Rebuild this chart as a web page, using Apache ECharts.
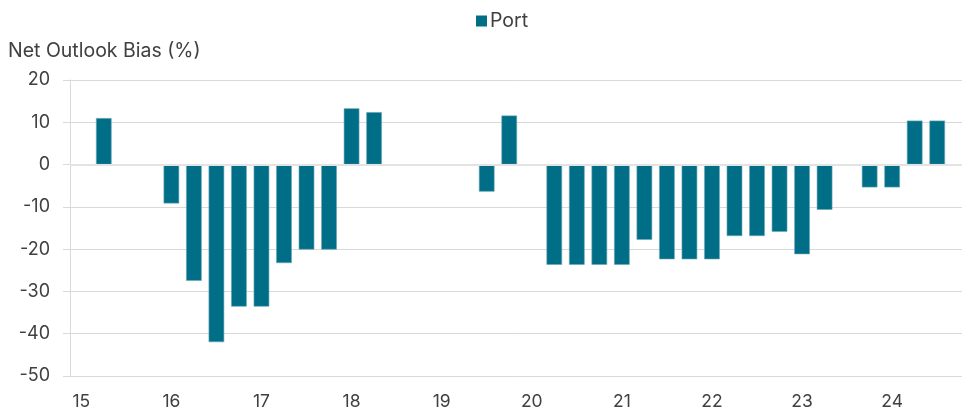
<!DOCTYPE html>
<html>
<head>
<meta charset="utf-8">
<script src="https://cdn.jsdelivr.net/npm/echarts@6/dist/echarts.min.js"></script>
<style>
  html, body { margin: 0; padding: 0; background: #fff; }
  #chart { width: 962px; height: 417px; }
</style>
</head>
<body>
<div id="chart"></div>
<script>
// quarters, 1Q15 .. 4Q24 (last one has no data)
var quarters = [
    '1Q15', '2Q15', '3Q15', '4Q15', '1Q16', '2Q16', '3Q16', '4Q16',
    '1Q17', '2Q17', '3Q17', '4Q17', '1Q18', '2Q18', '3Q18', '4Q18',
    '1Q19', '2Q19', '3Q19', '4Q19', '1Q20', '2Q20', '3Q20', '4Q20',
    '1Q21', '2Q21', '3Q21', '4Q21', '1Q22', '2Q22', '3Q22', '4Q22',
    '1Q23', '2Q23', '3Q23', '4Q23', '1Q24', '2Q24', '3Q24', '4Q24'
];
// year tick labels shown at each Q1
var yearLabels = ['15', '16', '17', '18', '19', '20', '21', '22', '23', '24'];

// net outlook bias, port sector (%)
var portBias = [
    null, 11, null, null, -9.2, -27.5, -42, -33.6,
    -33.6, -23.3, -20.1, -20.1, 13.3, 12.4, null, null,
    null, null, -6.4, 11.6, null, -23.7, -23.7, -23.7,
    -23.7, -17.8, -22.4, -22.4, -22.4, -16.9, -16.9, -15.9,
    -21.2, -10.7, null, -5.4, -5.4, 10.4, 10.4, null
];

var textColor = '#404040';
var fontFamily = 'Inter, "Noto Sans", sans-serif';

var chart = echarts.init(document.getElementById('chart'));
var option = {
    animation: false,
    textStyle: { fontFamily: fontFamily },
    title: {
        text: 'Net Outlook Bias (%)',
        left: 3,
        top: 36,
        textStyle: { fontSize: 19.5, fontWeight: 'normal', color: textColor, fontFamily: fontFamily }
    },
    legend: {
        data: ['Port'],
        top: 6,
        left: 471,
        icon: 'rect',
        itemWidth: 11,
        itemHeight: 11,
        itemGap: 6,
        itemStyle: { borderWidth: 0 },
        textStyle: { fontSize: 19.5, color: textColor, padding: [0, 0, 0, -2] }
    },
    grid: {
        left: 70,
        top: 80,
        width: 901,
        height: 296,
        outerBoundsMode: 'none'
    },
    xAxis: {
        type: 'category',
        data: quarters,
        axisLine: { show: false, onZero: false },
        axisTick: { show: false },
        axisLabel: {
            interval: 3,
            margin: 17,
            fontSize: 17.5,
            color: textColor,
            formatter: function (value, index) {
                return yearLabels[index / 4];
            }
        },
        splitLine: { show: false }
    },
    yAxis: {
        type: 'value',
        min: -50,
        max: 20,
        interval: 10,
        axisLine: { show: true, lineStyle: { color: '#d9d9d9', width: 1 } },
        axisTick: { show: true, length: 7, lineStyle: { color: '#d9d9d9' } },
        axisLabel: { margin: 20, fontSize: 18, color: textColor },
        splitLine: { show: true, lineStyle: { color: '#d9d9d9', width: 1 } }
    },
    series: [{
        name: 'Port',
        type: 'bar',
        data: portBias,
        barWidth: 15.6,
        itemStyle: {
            color: '#006e87',
            borderColor: '#6aa7b6',
            borderWidth: 0.6
        },
        markLine: {
            silent: true,
            symbol: 'none',
            label: { show: false },
            lineStyle: { color: '#e3e3e3', width: 2, type: 'solid' },
            data: [{ yAxis: 0 }]
        }
    }]
};
chart.setOption(option);
</script>
</body>
</html>
